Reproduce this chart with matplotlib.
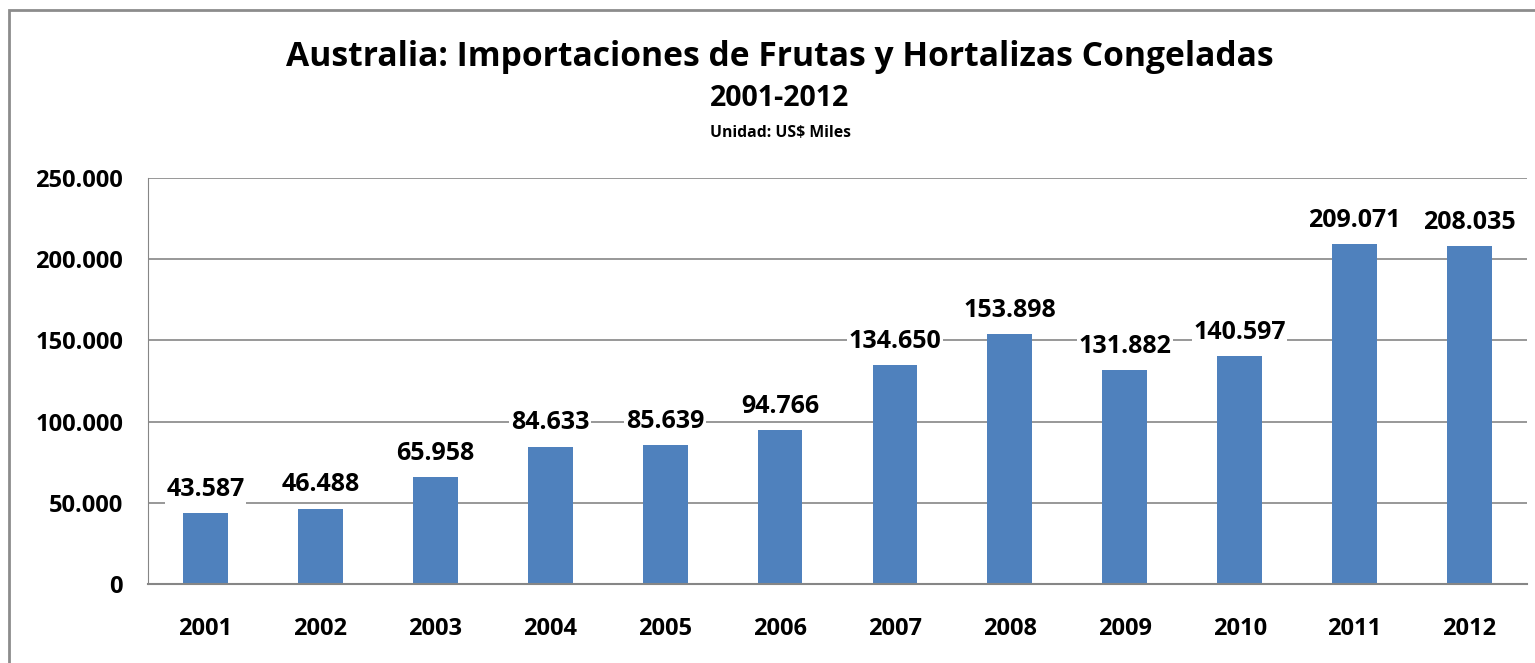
import matplotlib
matplotlib.use("Agg")
from matplotlib import pyplot as plt
from matplotlib.patches import Rectangle
from matplotlib.ticker import FuncFormatter

years = ["2001", "2002", "2003", "2004", "2005", "2006",
         "2007", "2008", "2009", "2010", "2011", "2012"]
values = [43587, 46488, 65958, 84633, 85639, 94766,
          134650, 153898, 131882, 140597, 209071, 208035]

plt.rcParams['font.family'] = ['Open Sans', 'DejaVu Sans']
plt.rcParams['font.weight'] = 'bold'


def miles(v, pos=None):
    # thousands separator with a dot, as in the original
    return "{:,.0f}".format(v).replace(",", ".")


fig = plt.figure(figsize=(15.35, 6.63), dpi=100)
ax = fig.add_axes([148 / 1535, 79 / 663, 1379 / 1535, 406 / 663])

# outer chart border
fig.patches.append(Rectangle((9 / 1535, -0.05), 1.2, (663 - 10) / 663 + 0.05,
                             transform=fig.transFigure, fill=False,
                             edgecolor="#8c8c8c", linewidth=2))

x = range(len(years))
ax.bar(x, values, width=0.39, color="#4F81BD", zorder=2)
ax.set_xlim(-0.5, len(years) - 0.5)
ax.set_ylim(0, 250000)
ax.set_yticks(range(0, 250001, 50000))
ax.yaxis.set_major_formatter(FuncFormatter(miles))
ax.set_xticks(list(x))
ax.set_xticklabels(years)
ax.grid(axis="y", color="#868686", linewidth=1.2, zorder=0)
ax.tick_params(length=0, labelsize=17, pad=18)
ax.tick_params(axis="x", pad=24)
for s in ["top", "right"]:
    ax.spines[s].set_visible(False)
ax.spines["left"].set_color("#868686")
ax.spines["bottom"].set_color("#868686")
ax.spines["bottom"].set_linewidth(1.5)

for i, v in enumerate(values):
    ax.annotate(miles(v), (i, v), xytext=(0, 17), textcoords="offset points",
                ha="center", va="center", fontsize=18, fontweight="bold",
                bbox=dict(facecolor="white", edgecolor="none", pad=1), zorder=5)

cx = 780 / 1535
fig.text(cx, 606 / 663, "Australia: Importaciones de Frutas y Hortalizas Congeladas",
         ha="center", va="center", fontsize=24.2, fontweight="bold")
fig.text(cx, 565 / 663, "2001-2012", ha="center", va="center",
         fontsize=20.5, fontweight="bold")
fig.text(cx, 530 / 663, "Unidad: US$ Miles", ha="center", va="center",
         fontsize=11.3, fontweight="bold")

fig.savefig("out.png", dpi=100)
